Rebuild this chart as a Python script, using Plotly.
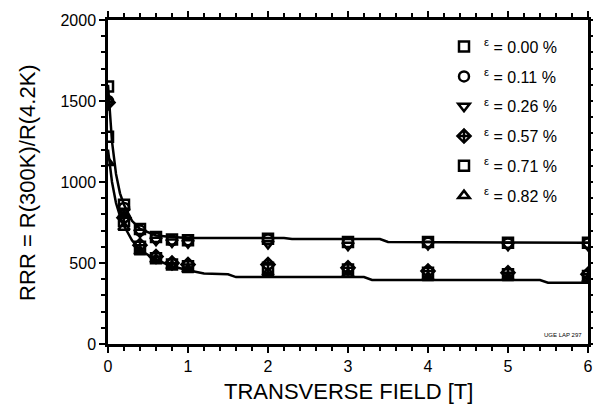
import plotly.graph_objects as go

# Field values (T)
field = [0, 0.2, 0.4, 0.6, 0.8, 1.0, 2, 3, 4, 5, 6]

# RRR values per strain series
rrr_000 = [1590, 860, 710, 660, 645, 640, 650, 630, 630, 625, 625]
rrr_011 = [1500, 840, 700, 655, 640, 640, 645, 625, 625, 620, 620]
rrr_026 = [1480, 820, 690, 640, 630, 625, 620, 610, 615, 610, 610]
rrr_057 = [1490, 780, 610, 540, 500, 490, 490, 470, 450, 440, 430]
rrr_071 = [1280, 760, 600, 530, 490, 480, 470, 460, 440, 430, 420]
rrr_082 = [1120, 720, 570, 520, 480, 460, 440, 430, 410, 410, 400]

labels = ["0.00", "0.11", "0.26", "0.57", "0.71", "0.82"]
symbols = ["square-open", "circle-open", "triangle-down-open", "diamond-cross-open", "square-open", "triangle-up-open"]
series = [rrr_000, rrr_011, rrr_026, rrr_057, rrr_071, rrr_082]

# Fit curves
fit_field = [0, 0.05, 0.1, 0.15, 0.2, 0.3, 0.4, 0.6, 0.8, 1.0, 1.5, 2.2, 2.3, 3.4, 3.5, 6]
fit_upper = [1600, 1250, 1050, 930, 860, 760, 710, 670, 660, 655, 655, 655, 648, 648, 630, 625]
fit_lower_field = [0, 0.05, 0.1, 0.15, 0.2, 0.3, 0.4, 0.6, 0.8, 1.0, 1.2, 1.5, 1.6, 3.2, 3.3, 5.4, 5.5, 6]
fit_lower = [1200, 1000, 870, 790, 730, 640, 580, 520, 480, 455, 435, 430, 413, 413, 395, 395, 378, 378]

FONT = "Liberation Sans, Arial, sans-serif"

fig = go.Figure()
fig.add_trace(go.Scatter(x=fit_field, y=fit_upper, mode="lines",
                         line=dict(color="black", width=2.5), showlegend=False, hoverinfo="skip"))
fig.add_trace(go.Scatter(x=fit_lower_field, y=fit_lower, mode="lines",
                         line=dict(color="black", width=2.5), showlegend=False, hoverinfo="skip"))

for i, (lab, sym, vals) in enumerate(zip(labels, symbols, series)):
    fig.add_trace(go.Scatter(
        x=field, y=vals, mode="markers",
        name="<sup>ε</sup> = " + lab + " %",
        legendgroup="g" + str(i),
        marker=dict(symbol=sym, size=10, color="black", line=dict(color="black", width=2.5)),
    ))

axis_common = dict(
    showline=True, linecolor="black", linewidth=2.5, mirror="allticks",
    ticks="outside", ticklen=6, tickwidth=2, tickcolor="black",
    showgrid=False, zeroline=False, automargin=False, ticklabeloverflow="allow",
    tickfont=dict(family=FONT, size=16, color="black"),
)

fig.update_xaxes(range=[0, 6], dtick=1, tick0=0,
                 minor=dict(dtick=0.2, ticks="outside", ticklen=4, tickwidth=2, tickcolor="black"),
                 **axis_common)
fig.update_yaxes(range=[0, 2000], dtick=500, tick0=0,
                 minor=dict(dtick=100, ticks="outside", ticklen=4, tickwidth=2, tickcolor="black"),
                 **axis_common)

fig.add_annotation(x=0.5, y=-0.148, xref="paper", yref="paper", text="TRANSVERSE FIELD [T]",
                   showarrow=False, xanchor="center", yanchor="middle",
                   font=dict(family=FONT, size=22, color="black"))
fig.add_annotation(x=-0.169, y=0.5, xref="paper", yref="paper", text="RRR = R(300K)/R(4.2K)",
                   showarrow=False, xanchor="center", yanchor="middle", textangle=-90,
                   font=dict(family=FONT, size=22, color="black"))

fig.add_annotation(x=5.95, y=25, xref="x", yref="y", text="UGE LAP 297", showarrow=False,
                   xanchor="right", yanchor="bottom",
                   font=dict(family=FONT, size=6, color="black"))

fig.update_layout(
    width=593, height=408,
    margin=dict(l=108, r=5, t=20, b=64),
    paper_bgcolor="white", plot_bgcolor="white",
    legend=dict(x=0.70, y=0.97, xanchor="left", yanchor="top",
                bgcolor="rgba(0,0,0,0)", tracegroupgap=6,
                font=dict(family=FONT, size=16, color="black")),
)

# Remove the default page margin so the figure fills the window exactly.
fig.write_html("out.html", config={"displayModeBar": False},
               post_script="document.body.style.margin='0';document.body.style.overflow='hidden';")
